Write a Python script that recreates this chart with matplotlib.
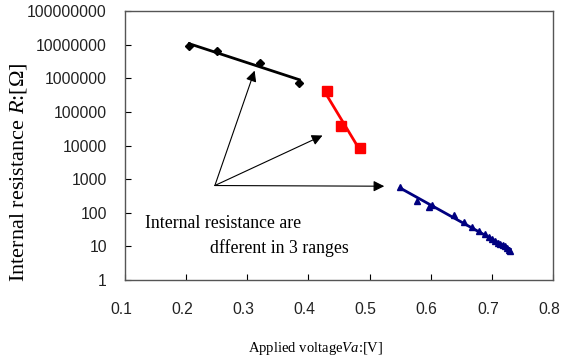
import numpy as np
import matplotlib
matplotlib.use("Agg")
import matplotlib.pyplot as plt
from matplotlib.transforms import ScaledTranslation

plt.rcParams['mathtext.fontset'] = 'custom'
plt.rcParams['mathtext.rm'] = 'Liberation Serif'
plt.rcParams['mathtext.it'] = 'Liberation Serif:italic'

# low-voltage range (diamonds)
va_low = [0.205, 0.25, 0.32, 0.385]
r_low = [9.0e6, 6.5e6, 2.9e6, 7.5e5]
# middle range (squares)
va_mid = [0.430, 0.453, 0.485]
r_mid = [4.2e5, 3.9e4, 8.5e3]
# high range (triangles)
va_high = [0.55, 0.578, 0.598, 0.602, 0.638, 0.655, 0.668, 0.679, 0.688,
           0.695, 0.70, 0.705, 0.71, 0.714, 0.718, 0.722, 0.725, 0.728, 0.73]
r_high = [600, 230, 150, 170, 85, 55, 37, 28, 23,
          19, 17, 15, 13, 12, 11, 10, 9, 8, 7.5]

xticks = [0.1, 0.2, 0.3, 0.4, 0.5, 0.6, 0.7, 0.8]
yticks = [1, 10, 100, 1000, 10000, 100000, 1000000, 10000000, 100000000]

# arrows: common origin and three targets
arrow_from = (0.247, 650)
arrow_to = [(0.312, 1.7e6), (0.423, 2.0e4), (0.524, 620)]


def trend(x, y):
    k, b = np.polyfit(x, np.log10(y), 1)
    xs = np.array([min(x), max(x)])
    return xs, 10 ** (k * xs + b)


fig = plt.figure(figsize=(5.62, 3.6), dpi=100)
ax = fig.add_axes([0.2224, 0.222, 0.7616, 0.747])

for x, y, c, m, ms in [(va_low, r_low, 'black', 'D', 4),
                       (va_mid, r_mid, '#ff0000', 's', 7),
                       (va_high, r_high, '#000080', '^', 5)]:
    ax.plot(x, y, linestyle='none', marker=m, color=c, markersize=ms)
    tx, ty = trend(x, y)
    ax.plot(tx, ty, color=c, lw=2)

for tgt in arrow_to:
    ax.annotate('', xy=tgt, xytext=arrow_from,
                arrowprops=dict(arrowstyle='-|>', mutation_scale=16,
                                lw=0.8, color='black', shrinkA=0, shrinkB=0))

ax.text(0.1335, 48, 'Internal resistance are', fontsize=12.8,
        family='Liberation Serif', va='center')
ax.text(0.239, 9, 'dfferent in 3 ranges', fontsize=12.8,
        family='Liberation Serif', va='center')

ax.set_yscale('log')
ax.set_xlim(0.1, 0.8)
ax.set_ylim(1, 1e8)
ax.set_xticks(xticks)
ax.set_xticklabels([f'{v:g}' for v in xticks])
ax.set_yticks(yticks)
ax.set_yticklabels([str(v) for v in yticks])
ax.tick_params(axis='both', direction='in', labelsize=11.3, length=4,
               labelcolor='#222222')
ax.tick_params(axis='x', pad=16)
ax.tick_params(axis='y', pad=13)
ax.tick_params(axis='y', which='minor', direction='in', length=2)
shift = ScaledTranslation(-4 / 100, 0, fig.dpi_scale_trans)
for lab in ax.get_xticklabels():
    lab.set_transform(lab.get_transform() + shift)
for lab in ax.get_xticklabels() + ax.get_yticklabels():
    lab.set_family('Liberation Sans')
for s in ax.spines.values():
    s.set_color('#555555')
    s.set_linewidth(1)

ax.set_xlabel('Applied voltage$Va$:[V]', fontsize=10.5,
              family='Liberation Serif', va='center')
ax.xaxis.set_label_coords(0.446, -0.253)
ax.set_ylabel('Internal resistance $R$:[Ω]', fontsize=16,
              family='Liberation Serif', va='center')
ax.yaxis.set_label_coords(-0.248, 0.401)

fig.savefig('out.png', dpi=100)
